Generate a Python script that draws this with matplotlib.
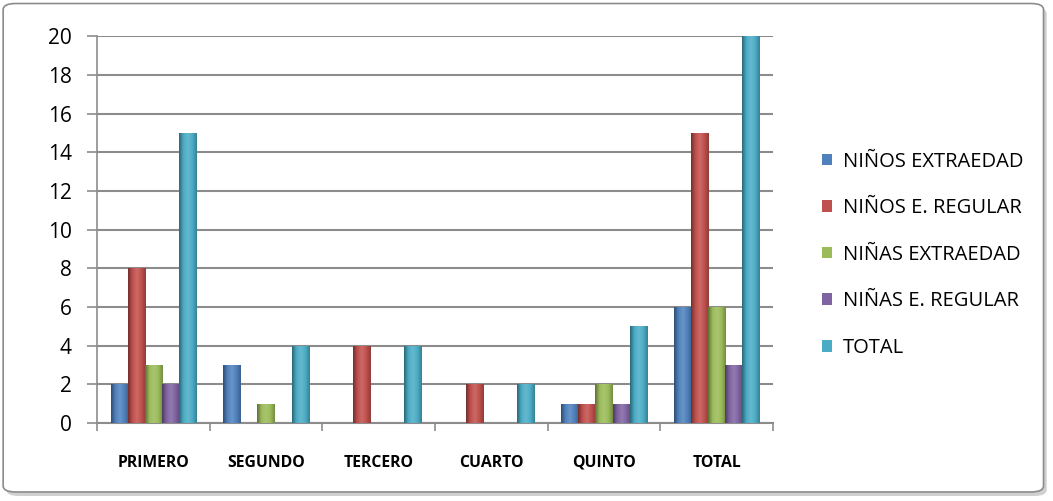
import numpy as np
import matplotlib
matplotlib.use("Agg")
import matplotlib.pyplot as plt
from matplotlib.patches import FancyBboxPatch
from matplotlib.colors import LinearSegmentedColormap, to_rgb

# --- data ---
categories = ["PRIMERO", "SEGUNDO", "TERCERO", "CUARTO", "QUINTO", "TOTAL"]
series_names = ["NIÑOS EXTRAEDAD", "NIÑOS E. REGULAR", "NIÑAS EXTRAEDAD",
                "NIÑAS E. REGULAR", "TOTAL"]
ninos_extra = [2, 3, 0, 0, 1, 6]
ninos_regular = [8, 0, 4, 2, 1, 15]
ninas_extra = [3, 1, 0, 0, 2, 6]
ninas_regular = [2, 0, 0, 0, 1, 3]
total = [15, 4, 4, 2, 5, 20]
series = [ninos_extra, ninos_regular, ninas_extra, ninas_regular, total]
colors = ["#4F81BD", "#C0504D", "#9BBB59", "#8064A2", "#4BACC6"]

plt.rcParams['font.family'] = ['Open Sans', 'DejaVu Sans']

fig = plt.figure(figsize=(10.53, 5.01), dpi=100)

# chart border with shadow (behind the axes)
shadow = FancyBboxPatch((0.006, 0.01), 0.988, 0.975, boxstyle="round,pad=0,rounding_size=0.012",
                        transform=fig.transFigure, facecolor="#d0d0d0", edgecolor="none", zorder=-2)
border = FancyBboxPatch((0.003, 0.018), 0.988, 0.975, boxstyle="round,pad=0,rounding_size=0.012",
                        transform=fig.transFigure, facecolor="white", edgecolor="#8c8c8c",
                        linewidth=1.2, zorder=-1)
fig.patches.extend([shadow, border])

ax = fig.add_axes([0.0921, 0.1557, 0.642, 0.772])
ax.set_facecolor("none")


def shade(c, f):
    r = np.array(to_rgb(c))
    return tuple(np.clip(r * f if f < 1 else r + (1 - r) * (f - 1), 0, 1))


x = np.arange(len(categories))
bw = 0.152
for i, (vals, name) in enumerate(zip(series, series_names)):
    bars = ax.bar(x + (i - 2) * bw, vals, width=bw, color=colors[i], edgecolor="none",
                  label=name, zorder=3)
    # cylinder-like horizontal gradient, as in the original
    cmap = LinearSegmentedColormap.from_list(
        "g%d" % i, [shade(colors[i], 0.6), shade(colors[i], 1.0), shade(colors[i], 1.15),
                    shade(colors[i], 1.0), shade(colors[i], 0.75)])
    grad = np.linspace(0, 1, 64).reshape(1, -1)
    for b in bars:
        if b.get_height() <= 0:
            continue
        x0, y0 = b.get_x(), b.get_y()
        im = ax.imshow(grad, cmap=cmap, aspect="auto", zorder=4,
                       extent=[x0, x0 + b.get_width(), y0, y0 + b.get_height()])
        im.set_clip_path(b)

ax.set_xlim(-0.5, len(categories) - 0.5)
ax.set_ylim(0, 20)
ax.set_yticks(range(0, 21, 2))
ax.yaxis.grid(True, color="#8c8c8c", linewidth=1.5, zorder=0)
ax.tick_params(axis="y", labelsize=15, length=7, pad=11, color="#8c8c8c", width=1.2)
ax.set_xticks(x)
ax.set_xticklabels(categories, fontsize=11.3, fontweight="bold")
ax.tick_params(axis="x", length=0, pad=23)
ax.set_xticks(np.arange(-0.5, len(categories)), minor=True)
ax.tick_params(axis="x", which="minor", length=6, color="#8c8c8c", width=1.2)

for s in ["top", "right"]:
    ax.spines[s].set_visible(False)
ax.spines["left"].set_color("#8c8c8c")
ax.spines["left"].set_linewidth(1.2)
ax.spines["bottom"].set_color("#8c8c8c")
ax.spines["bottom"].set_linewidth(1.5)

ax.legend(loc="center left", bbox_to_anchor=(1.072, 0.435), frameon=False, fontsize=14.5,
          borderpad=0, borderaxespad=0,
          handlelength=0.5, handleheight=0.5, handletextpad=0.55, labelspacing=1.32)

fig.savefig("out.png", dpi=100)
